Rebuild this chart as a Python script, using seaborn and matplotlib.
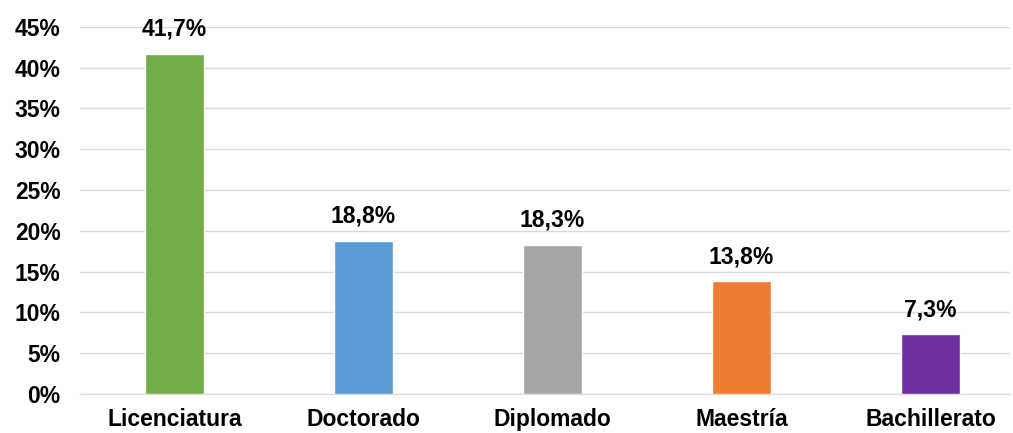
import matplotlib
matplotlib.use("Agg")
import matplotlib.pyplot as plt
import seaborn as sns
import pandas as pd
from matplotlib.ticker import MultipleLocator, FuncFormatter

niveles = ["Licenciatura", "Doctorado", "Diplomado", "Maestría", "Bachillerato"]
porcentajes = [41.7, 18.8, 18.3, 13.8, 7.3]
colores = ["#70AD47", "#5B9BD5", "#A5A5A5", "#ED7D31", "#7030A0"]

sns.set_style("white")
plt.rcParams["font.family"] = ["Liberation Sans", "DejaVu Sans"]
plt.rcParams["font.weight"] = "bold"

df = pd.DataFrame({"nivel": niveles, "pct": porcentajes})

fig = plt.figure(figsize=(10.13, 4.33), dpi=100)
ax = fig.add_axes([0.079, 0.09, 0.918, 0.848])

sns.barplot(data=df, x="nivel", y="pct", hue="nivel", palette=colores,
            width=0.31, saturation=1, legend=False, ax=ax, zorder=3)

ax.set_xlim(-0.5, 4.42)
ax.set_ylim(0, 45)
ax.yaxis.set_major_locator(MultipleLocator(5))
ax.yaxis.set_major_formatter(FuncFormatter(lambda v, p: f"{v:.0f}%"))
ax.grid(axis="y", color="#D9D9D9", linewidth=1, zorder=0)
ax.set_xlabel("")
ax.set_ylabel("")
for s in ["top", "right", "left"]:
    ax.spines[s].set_visible(False)
ax.spines["bottom"].set_color("#D9D9D9")
ax.tick_params(axis="both", length=0, labelsize=16.5, labelcolor="black")
ax.tick_params(axis="y", pad=14)
ax.tick_params(axis="x", pad=10)
for lab in ax.get_xticklabels() + ax.get_yticklabels():
    lab.set_fontweight("bold")

for i, v in enumerate(porcentajes):
    ax.text(i, v + 1.6, f"{v:.1f}%".replace(".", ","), ha="center", va="bottom",
            fontsize=16.5, fontweight="bold", color="black")

fig.savefig("out.png", dpi=100)
